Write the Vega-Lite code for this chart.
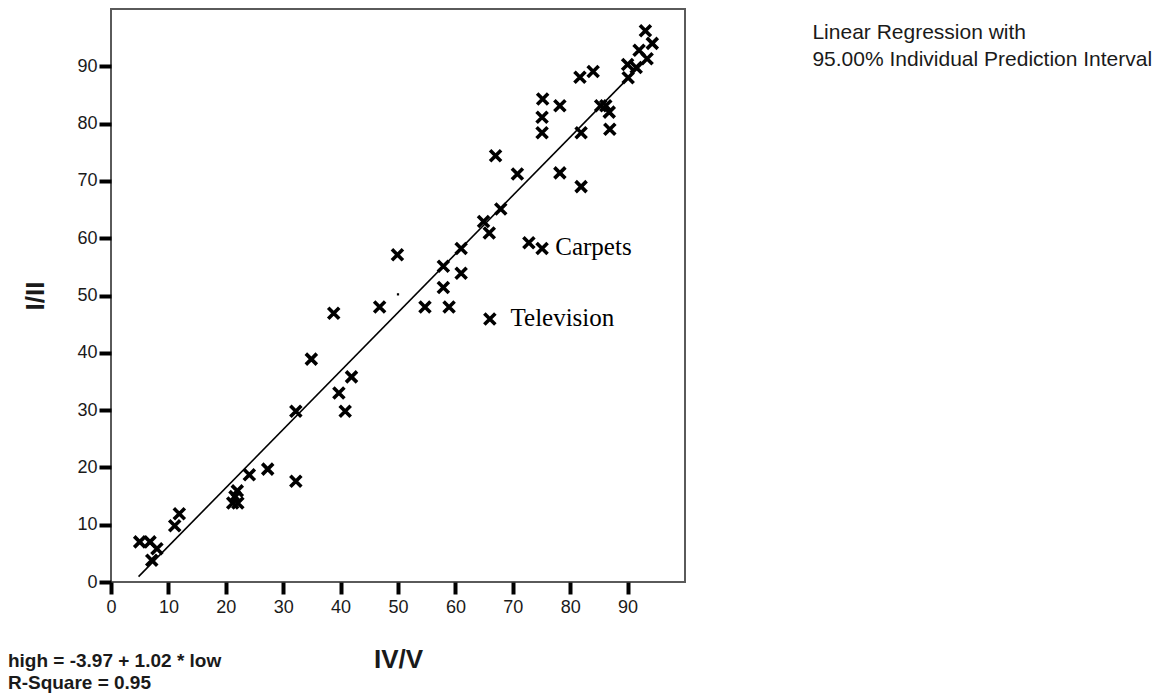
{
  "$schema": "https://vega.github.io/schema/vega-lite/v6.json",
  "width": 574,
  "height": 573,
  "autosize": {"type": "none"},
  "padding": {"left": 111, "top": 9, "right": 484, "bottom": 116},
  "background": "white",
  "config": {
    "font": "Liberation Sans",
    "view": {"stroke": "#5a5a5a", "strokeWidth": 2}
  },
  "datasets": {
    "pts": [
      {"x": 5, "y": 7}, {"x": 6.8, "y": 7}, {"x": 8, "y": 5.8}, {"x": 7.1, "y": 3.8},
      {"x": 11.1, "y": 9.8}, {"x": 11.9, "y": 11.9},
      {"x": 21.2, "y": 13.8}, {"x": 22.1, "y": 13.8}, {"x": 22, "y": 15.9}, {"x": 21.6, "y": 14.9},
      {"x": 24.1, "y": 18.7}, {"x": 27.3, "y": 19.7}, {"x": 32.2, "y": 17.6}, {"x": 32.2, "y": 29.8},
      {"x": 34.9, "y": 38.9}, {"x": 38.8, "y": 46.9}, {"x": 39.7, "y": 33}, {"x": 40.8, "y": 29.8},
      {"x": 41.9, "y": 35.8}, {"x": 46.8, "y": 48}, {"x": 49.9, "y": 57.1},
      {"x": 54.7, "y": 48}, {"x": 57.9, "y": 51.4}, {"x": 57.9, "y": 55.1}, {"x": 58.9, "y": 48},
      {"x": 61, "y": 53.9}, {"x": 61, "y": 58.2}, {"x": 64.9, "y": 62.9}, {"x": 65.9, "y": 60.9},
      {"x": 66, "y": 45.9}, {"x": 67, "y": 74.4}, {"x": 67.9, "y": 65.1}, {"x": 70.8, "y": 71.2},
      {"x": 72.8, "y": 59.2}, {"x": 75.1, "y": 58.2},
      {"x": 75.1, "y": 78.4}, {"x": 75.1, "y": 81.1}, {"x": 75.2, "y": 84.3}, {"x": 78.2, "y": 83.1},
      {"x": 78.2, "y": 71.4}, {"x": 81.9, "y": 69}, {"x": 81.9, "y": 78.4}, {"x": 81.7, "y": 88.1},
      {"x": 84, "y": 89.1}, {"x": 85.3, "y": 83.1}, {"x": 86.2, "y": 83.1}, {"x": 86.8, "y": 82},
      {"x": 86.9, "y": 79}, {"x": 90.1, "y": 88}, {"x": 90, "y": 90.3}, {"x": 91.5, "y": 89.8},
      {"x": 92, "y": 92.8}, {"x": 93.1, "y": 96.2}, {"x": 94.3, "y": 94}, {"x": 93.4, "y": 91.3}
    ],
    "fit": [
      {"x": 4.8, "y": 0.93},
      {"x": 93, "y": 90.9}
    ],
    "dot": [
      {"x": 50, "y": 50.2}
    ],
    "labels": [
      {"x": 77.4, "y": 58.4, "text": "Carpets"},
      {"x": 69.6, "y": 46.0, "text": "Television"}
    ],
    "notes": [
      {"x": 122.2, "y": 95.8, "text": "Linear Regression with"},
      {"x": 122.2, "y": 91.1, "text": "95.00% Individual Prediction Interval"}
    ],
    "eqn": [
      {"x": -17.96, "y": -13.7, "text": "high = -3.97 + 1.02 * low"},
      {"x": -17.96, "y": -17.7, "text": "R-Square = 0.95"}
    ]
  },
  "encoding": {
    "x": {
      "field": "x",
      "type": "quantitative",
      "scale": {"domain": [0, 100], "nice": false, "zero": false},
      "axis": {
        "title": "IV/V",
        "values": [0, 10, 20, 30, 40, 50, 60, 70, 80, 90],
        "grid": false,
        "domain": false,
        "ticks": true,
        "tickColor": "black",
        "tickWidth": 4,
        "tickSize": 12,
        "labelFont": "Liberation Sans",
        "labelFontSize": 18,
        "labelColor": "#1a1a1a",
        "labelPadding": 4,
        "labelFlush": false,
        "titleFont": "Liberation Sans",
        "titleFontSize": 26,
        "titleFontWeight": "bold",
        "titleColor": "#1a1a1a",
        "titlePadding": 30
      }
    },
    "y": {
      "field": "y",
      "type": "quantitative",
      "scale": {"domain": [0, 100], "nice": false, "zero": false},
      "axis": {
        "title": "I/II",
        "values": [0, 10, 20, 30, 40, 50, 60, 70, 80, 90],
        "grid": false,
        "domain": false,
        "ticks": true,
        "tickColor": "black",
        "tickWidth": 4,
        "tickSize": 12,
        "labelFont": "Liberation Sans",
        "labelFontSize": 18,
        "labelColor": "#1a1a1a",
        "labelPadding": 2,
        "labelFlush": false,
        "titleFont": "Liberation Sans",
        "titleFontSize": 26,
        "titleFontWeight": "bold",
        "titleColor": "#1a1a1a",
        "titlePadding": 28
      }
    }
  },
  "layer": [
    {
      "data": {"name": "fit"},
      "mark": {"type": "line", "color": "black", "strokeWidth": 1.6}
    },
    {
      "data": {"name": "pts"},
      "mark": {
        "type": "point",
        "shape": "M-1,-1L1,1M-1,1L1,-1",
        "size": 121,
        "filled": false,
        "stroke": "black",
        "strokeWidth": 3.6,
        "opacity": 1
      }
    },
    {
      "data": {"name": "dot"},
      "mark": {"type": "point", "shape": "square", "size": 5, "filled": true, "color": "black", "opacity": 1}
    },
    {
      "data": {"name": "labels"},
      "mark": {"type": "text", "font": "Liberation Serif", "fontSize": 25, "align": "left", "baseline": "middle", "color": "black"},
      "encoding": {"text": {"field": "text"}}
    },
    {
      "data": {"name": "notes"},
      "mark": {"type": "text", "font": "Liberation Sans", "fontSize": 21, "align": "left", "baseline": "middle", "color": "#1a1a1a"},
      "encoding": {"text": {"field": "text"}}
    },
    {
      "data": {"name": "eqn"},
      "mark": {"type": "text", "font": "Liberation Sans", "fontSize": 19, "fontWeight": "bold", "align": "left", "baseline": "middle", "color": "#1a1a1a"},
      "encoding": {"text": {"field": "text"}}
    }
  ]
}
